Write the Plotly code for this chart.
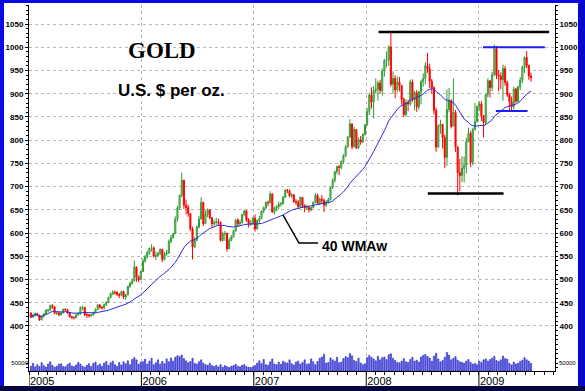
import numpy as np
import pandas as pd
import plotly.graph_objects as go

# ---------------- data (weekly) ----------------
first_open = 428
close_2005 = [419, 423, 427, 423, 413, 421, 426, 434, 434, 444, 441, 427, 428, 424, 428, 436, 435, 428, 420, 418,
              418, 424, 426, 440, 440, 424, 424, 422, 424, 429, 435, 445, 440, 439, 446, 451, 461, 469, 473, 472,
              468, 466, 474, 462, 467, 485, 492, 497, 527, 505, 500, 517]
high_2005 = [429, 426, 429, 428, 424, 423, 428, 436, 437, 446, 447, 442, 431, 430, 430, 437, 438, 436, 429, 422,
             421, 426, 429, 442, 444, 440, 427, 426, 426, 431, 438, 447, 447, 443, 448, 453, 463, 472, 477, 476,
             475, 471, 476, 476, 469, 487, 495, 502, 541, 525, 509, 519]
low_2005 = [417, 418, 420, 421, 411, 412, 418, 424, 429, 433, 437, 425, 424, 421, 423, 427, 432, 426, 418, 415,
            414, 416, 422, 424, 434, 421, 417, 418, 419, 422, 428, 434, 437, 435, 435, 443, 450, 460, 466, 467,
            464, 460, 464, 458, 456, 466, 482, 489, 496, 495, 494, 498]

close_2006 = [540, 549, 558, 567, 568, 550, 552, 556, 565, 543, 555, 557, 582, 590, 598, 630, 654, 681, 714, 660,
              655, 642, 609, 570, 584, 613, 630, 666, 620, 640, 650, 633, 620, 623, 624, 623, 584, 598, 599, 566,
              584, 591, 604, 628, 620, 622, 640, 648, 628, 620, 621, 632]
high_2006 = [546, 553, 562, 569, 576, 571, 560, 560, 567, 566, 559, 564, 586, 596, 601, 636, 659, 683, 730, 706,
             672, 661, 643, 614, 591, 616, 637, 677, 668, 648, 653, 650, 634, 629, 633, 631, 625, 603, 605, 601,
             590, 596, 607, 630, 632, 629, 641, 650, 648, 632, 628, 635]
low_2006 = [516, 536, 545, 553, 560, 547, 542, 548, 552, 537, 541, 551, 555, 578, 588, 598, 625, 650, 677, 652,
            640, 635, 604, 543, 568, 584, 610, 630, 615, 620, 634, 630, 613, 615, 617, 616, 582, 582, 583, 560,
            568, 582, 590, 603, 613, 615, 621, 637, 624, 612, 615, 618]

close_2007 = [609, 627, 631, 647, 654, 666, 665, 684, 645, 654, 657, 662, 663, 677, 692, 691, 680, 682, 668, 666,
              657, 677, 659, 654, 655, 650, 655, 666, 681, 664, 673, 670, 660, 667, 672, 698, 713, 732, 743, 741,
              754, 766, 785, 806, 835, 786, 823, 783, 801, 796, 812, 833]
high_2007 = [640, 629, 637, 649, 657, 668, 670, 690, 686, 657, 660, 668, 667, 680, 695, 695, 694, 686, 684, 673,
             671, 678, 677, 662, 661, 658, 657, 668, 686, 685, 676, 682, 675, 671, 676, 700, 718, 734, 745, 747,
             757, 770, 789, 809, 845, 836, 828, 822, 806, 809, 815, 835]
low_2007 = [603, 607, 622, 630, 643, 652, 658, 664, 644, 640, 647, 651, 657, 661, 676, 686, 677, 675, 665, 661,
            653, 655, 654, 645, 650, 644, 647, 653, 664, 661, 660, 663, 645, 656, 664, 670, 695, 709, 727, 725,
            737, 749, 764, 785, 806, 780, 784, 781, 781, 790, 794, 810]

close_2008 = [862, 897, 882, 907, 910, 923, 907, 949, 972, 972, 1001, 920, 933, 908, 925, 918, 888, 855, 881, 878,
              925, 887, 902, 872, 904, 926, 933, 960, 954, 927, 913, 864, 785, 830, 834, 806, 763, 866, 885, 830,
              860, 785, 730, 724, 739, 746, 797, 815, 752, 823, 840, 873]
high_2008 = [869, 902, 914, 917, 933, 928, 930, 954, 975, 991, 1004, 1033, 948, 940, 937, 936, 919, 892, 888, 887,
             930, 931, 906, 908, 906, 930, 944, 968, 988, 965, 932, 916, 870, 834, 844, 835, 812, 909, 912, 888,
             933, 865, 787, 760, 765, 765, 805, 827, 820, 827, 880, 874]
low_2008 = [831, 854, 868, 846, 900, 885, 900, 896, 937, 956, 960, 915, 900, 890, 903, 905, 876, 850, 851, 862,
            874, 882, 864, 861, 866, 877, 915, 920, 945, 912, 900, 855, 775, 786, 814, 782, 740, 745, 860, 825,
            832, 775, 681, 690, 710, 709, 728, 795, 742, 746, 821, 838]

close_2009 = [878, 853, 838, 898, 928, 913, 941, 997, 940, 938, 930, 954, 924, 898, 883, 872, 910, 884, 915, 929,
              957, 978, 961, 938, 934]
high_2009 = [884, 884, 842, 900, 933, 927, 947, 1006, 1003, 951, 946, 963, 960, 928, 902, 894, 915, 913, 917, 936,
             960, 980, 992, 962, 945]
low_2009 = [862, 841, 806, 832, 892, 892, 906, 938, 931, 905, 910, 885, 917, 893, 862, 863, 866, 880, 882, 908,
            923, 944, 955, 930, 926]

# weekly volume, thousands
volume_2005 = [30, 48, 26, 40, 28, 52, 34, 25, 44, 58, 36, 24, 30, 42, 46, 28, 26, 40, 50, 32, 27, 38, 54, 44, 30, 24,
               36, 46, 28, 48, 56, 34, 44, 30, 50, 60, 36, 52, 62, 40, 30, 54, 38, 58, 46, 64, 40, 72, 84, 70, 42, 56]
volume_2006 = [58, 74, 44, 62, 80, 40, 52, 70, 42, 60, 46, 76, 58, 82, 62, 86, 96, 90, 100, 78, 64, 52, 60, 80, 48, 44,
               58, 70, 50, 40, 36, 48, 34, 28, 36, 26, 40, 24, 34, 28, 22, 30, 34, 42, 30, 26, 36, 40, 28, 24, 22, 26]
volume_2007 = [34, 50, 64, 46, 72, 40, 36, 58, 76, 44, 40, 56, 42, 62, 54, 50, 70, 46, 38, 56, 62, 44, 54, 70, 42, 46,
               76, 58, 40, 60, 80, 88, 104, 50, 54, 82, 70, 62, 86, 52, 56, 78, 90, 84, 110, 96, 66, 60, 80, 50, 40, 46]
volume_2008 = [84, 98, 86, 76, 64, 92, 70, 84, 88, 72, 102, 108, 80, 66, 54, 52, 62, 78, 58, 54, 72, 86, 62, 68, 56,
               88, 98, 104, 92, 82, 62, 94, 112, 76, 58, 66, 86, 116, 100, 70, 80, 90, 68, 58, 54, 50, 62, 72, 54, 44,
               48, 40]
volume_2009 = [62, 54, 70, 76, 62, 72, 80, 92, 66, 60, 70, 94, 78, 74, 48, 38, 56, 44, 48, 60, 68, 84, 70, 62, 48]

price_ticks = list(range(400, 1051, 50))
year_ticks = ['2005-01-01', '2006-01-01', '2007-01-01', '2008-01-01', '2009-01-01']
year_labels = ['2005', '2006', '2007', '2008', '2009']

# drawn support / resistance levels: (start, end, level)
black_levels = [('2008-02-10', '2009-08-17', 1033), ('2008-07-19', '2009-03-22', 685)]
blue_levels = [('2009-01-14', '2009-08-03', 1000), ('2009-02-25', '2009-06-08', 863)]

# ---------------- assemble ----------------
close = close_2005 + close_2006 + close_2007 + close_2008 + close_2009
high = high_2005 + high_2006 + high_2007 + high_2008 + high_2009
low = low_2005 + low_2006 + low_2007 + low_2008 + low_2009
volume = np.array(volume_2005 + volume_2006 + volume_2007 + volume_2008 + volume_2009) * 1000
opens = [first_open] + close[:-1]
high = [max(h, o, c) for h, o, c in zip(high, opens, close)]
low = [min(l, o, c) for l, o, c in zip(low, opens, close)]
weeks = pd.date_range('2005-01-07', periods=len(close), freq='W-FRI')


def wma(vals, n=40):
    out = []
    for i in range(len(vals)):
        w = np.array(vals[max(0, i - n + 1):i + 1], dtype=float)
        k = np.arange(1, len(w) + 1)
        out.append(float(np.dot(w, k) / k.sum()))
    return out


ma40 = wma(close)

W, H = 585, 391
L, R, T, B = 29, 30, 5, 20
PW, PH = W - L - R, H - T - B


def px(x):
    return (x - L) / PW


def py(y):
    return 1 - (y - T) / PH


FONT = 'Liberation Sans, Arial, sans-serif'

fig = go.Figure()
fig.add_trace(go.Bar(x=weeks, y=volume, yaxis='y2', marker=dict(color='#6464f4', line=dict(color='#2020c0', width=0.6)),
                     showlegend=False, hoverinfo='skip'))
fig.add_trace(go.Candlestick(x=weeks, open=opens, high=high, low=low, close=close,
                             increasing=dict(line=dict(color='#2e9a2e', width=1), fillcolor='#b4e0b4'),
                             decreasing=dict(line=dict(color='#ff0000', width=1), fillcolor='#ff0000'),
                             showlegend=False))
fig.add_trace(go.Scatter(x=weeks, y=ma40, mode='lines', line=dict(color='#2a2ae0', width=1), showlegend=False))
fig.add_trace(go.Scatter(x=[weeks[0]], y=[close[0]], yaxis='y3', mode='markers', marker=dict(opacity=0),
                         showlegend=False, hoverinfo='skip'))

shapes = []
for x0, x1, lv in black_levels:
    shapes.append(dict(type='line', xref='x', yref='y', x0=x0, x1=x1, y0=lv, y1=lv, line=dict(color='black', width=2.5)))
for x0, x1, lv in blue_levels:
    shapes.append(dict(type='line', xref='x', yref='y', x0=x0, x1=x1, y0=lv, y1=lv, line=dict(color='#1e1ef0', width=2)))
# leader line for the 40 WMAw label
shapes.append(dict(type='path', xref='paper', yref='paper',
                   path=f'M {px(283)},{py(215)} L {px(299)},{py(243)} L {px(318)},{py(243)}',
                   line=dict(color='black', width=1.5)))
# long year ticks below the axis
for yt in year_ticks:
    shapes.append(dict(type='line', xref='x', yref='paper', x0=yt, x1=yt, y0=py(371), y1=py(386),
                       line=dict(color='black', width=1)))
# frame
frame = [
    (0, 0, W, 3, '#0a0ae6'),
    (0, 0, 4, H, '#0a0ae6'),
    (W - 7, 0, W, H, '#0808d0'),
    (0, H - 5, W, H, '#050540'),
]
for x0, y0, x1, y1, col in frame:
    shapes.append(dict(type='rect', xref='paper', yref='paper', x0=px(x0), x1=px(x1), y0=py(y1), y1=py(y0),
                       fillcolor=col, line=dict(width=0), layer='above'))

annotations = [
    dict(text='GOLD', xref='paper', yref='paper', x=px(162), y=py(50), xanchor='center', yanchor='middle',
         showarrow=False,
         font=dict(family='Liberation Serif, Times New Roman, serif', size=23, color='black', weight='bold')),
    dict(text='U.S. $ per oz.', xref='paper', yref='paper', x=px(171), y=py(90), xanchor='center',
         yanchor='middle', showarrow=False, font=dict(family=FONT, size=17, color='black', weight='bold')),
    dict(text='40 WMAw', xref='paper', yref='paper', x=px(320), y=py(246), xanchor='left', yanchor='middle',
         showarrow=False, font=dict(family=FONT, size=14, color='black', weight='bold')),
    dict(text='50000', xref='paper', yref='y2', x=1.004, y=50000, xanchor='left', yanchor='middle',
         showarrow=False, font=dict(family=FONT, size=6, color='black')),
]

fig.update_layout(
    width=W, height=H, margin=dict(l=L, r=R, t=T, b=B, autoexpand=False),
    paper_bgcolor='white', plot_bgcolor='white',
    shapes=shapes, annotations=annotations, showlegend=False, bargap=0.45,
    xaxis=dict(type='date', range=['2005-01-01', '2009-09-05'], rangeslider=dict(visible=False),
               tickvals=year_ticks, ticktext=year_labels, ticklabelposition='outside right',
               ticks='outside', ticklen=2, tickcolor='black', showline=True, linecolor='black', linewidth=1,
               showgrid=True, gridcolor='#b8b8b8', griddash='dot', gridwidth=1,
               tickfont=dict(family=FONT, size=11, color='black'),
               minor=dict(dtick='M1', ticks='outside', ticklen=3, tickcolor='black', showgrid=False)),
    yaxis=dict(range=[303, 1091], tickvals=price_ticks, showgrid=True, gridcolor='#b8b8b8', griddash='dot',
               showline=True, linecolor='black', linewidth=1, ticks='outside', ticklen=3, tickcolor='black',
               tickfont=dict(family=FONT, size=8, color='black', weight='bold'), zeroline=False,
               minor=dict(dtick=10, ticks='outside', ticklen=2, tickcolor='black', showgrid=False)),
    yaxis2=dict(overlaying='y', side='left', range=[0, 2300000], tickvals=[50000], ticktext=['50000'],
                showgrid=False, zeroline=False, showline=False, ticks='',
                tickfont=dict(family=FONT, size=6, color='black')),
    yaxis3=dict(overlaying='y', side='right', range=[303, 1091], tickvals=price_ticks, showgrid=False,
                showline=True, linecolor='black', linewidth=1, ticks='outside', ticklen=2, tickcolor='black',
                tickfont=dict(family=FONT, size=8, color='black', weight='bold'), zeroline=False,
                minor=dict(dtick=10, ticks='outside', ticklen=2, tickcolor='black', showgrid=False)),
)

fig.write_html('out.html', config={'displayModeBar': False},
               post_script="document.body.style.margin='0px';")
